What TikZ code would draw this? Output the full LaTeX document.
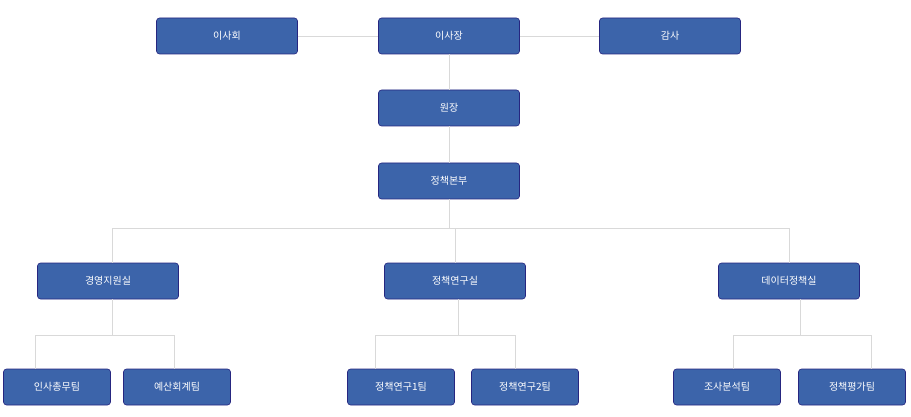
\documentclass[tikz,border=0pt]{standalone}
\usepackage{fontspec}
\newfontfamily\kr{Noto Sans CJK KR}
\begin{document}
\begin{tikzpicture}[x=1pt,y=-1pt,
  box/.style={draw=black!50!blue!70!gray, fill=boxblue, rounded corners=3pt, minimum height=36pt, text=white, font=\kr\fontsize{10}{12}\selectfont, inner sep=0pt, line width=0.6pt},
  big/.style={box, minimum width=141pt},
  small/.style={box, minimum width=107pt},
  con/.style={draw=linegray, line width=0.8pt}]
\definecolor{boxblue}{HTML}{3C64AA}
\definecolor{linegray}{HTML}{D9D9D9}
\useasboundingbox (0,0) rectangle (911,417);
\node[big] (a) at (227,36) {이사회};
\node[big] (b) at (449,36) {이사장};
\node[big] (c) at (670,36) {감사};
\node[big] (d) at (449,108) {원장};
\node[big] (e) at (449,181) {정책본부};
\node[big] (f) at (108,281) {경영지원실};
\node[big] (g) at (455,281) {정책연구실};
\node[big] (h) at (789,281) {데이터정책실};
\node[small] (t1) at (57,387) {인사총무팀};
\node[small] (t2) at (177,387) {예산회계팀};
\node[small] (t3) at (401,387) {정책연구1팀};
\node[small] (t4) at (525,387) {정책연구2팀};
\node[small] (t5) at (727,387) {조사분석팀};
\node[small] (t6) at (852,387) {정책평가팀};
\begin{scope}[on background layer/.try]
\end{scope}
\path[con] (a) -- (b) (b) -- (c) (b) -- (d) (d) -- (e);
\coordinate (j1) at (449,228);
\path[con] (e.south) -- (j1);
\path[con] (112,228) -- (789,228);
\path[con] (112,228) -- (112,263);
\path[con] (455,228) -- (g.north);
\path[con] (789,228) -- (h.north);
\path[con] (112,299) -- (112,335) (35,369) -- (35,335) -- (174,335) -- (174,369);
\path[con] (458,299) -- (458,335) (375,369) -- (375,335) -- (515,335) -- (515,369);
\path[con] (800,299) -- (800,335) (733,369) -- (733,335) -- (871,335) -- (871,369);
\end{tikzpicture}
\end{document}
